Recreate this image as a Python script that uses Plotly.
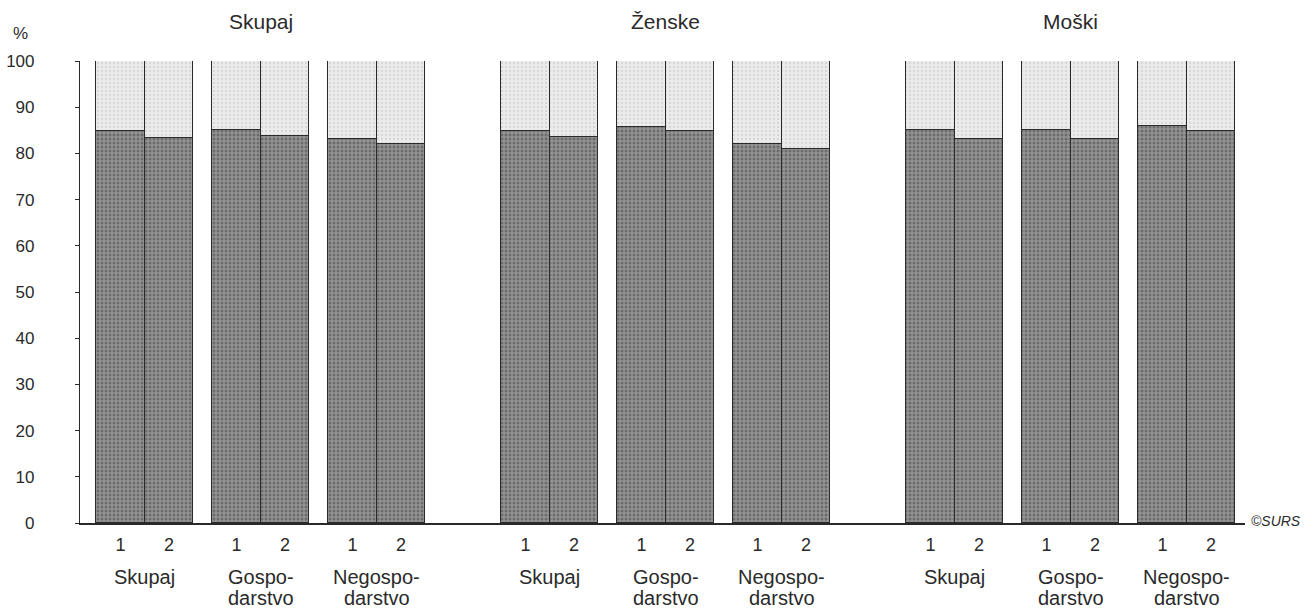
import plotly.graph_objects as go

# ---------------- data ----------------
groups = ["Skupaj", "Ženske", "Moški"]
sub_line1 = ["Skupaj", "Gospo-", "Negospo-"]
sub_line2 = ["", "darstvo", "darstvo"]
bar_labels = ["1", "2"]

# lower (dark) part, % ; order: Skupaj 1,2 / Gospodarstvo 1,2 / Negospodarstvo 1,2
dark_skupaj = [84.8, 83.3, 85.1, 83.7, 83.2, 82.1]
dark_zenske = [84.8, 83.5, 85.8, 84.8, 82.1, 81.0]
dark_moski = [85.1, 83.2, 85.1, 83.2, 86.0, 84.9]
# upper (light) part, %
light_skupaj = [15.2, 16.7, 14.9, 16.3, 16.8, 17.9]
light_zenske = [15.2, 16.5, 14.2, 15.2, 17.9, 19.0]
light_moski = [14.9, 16.8, 14.9, 16.8, 14.0, 15.1]

y_ticks = [0, 10, 20, 30, 40, 50, 60, 70, 80, 90, 100]

# ---------------- layout constants ----------------
BAR_W = 48.5
PAIR_STEP = 116
GROUP_STEP = 405
FIRST = 40.5
FONT = "Liberation Sans, Arial, Helvetica, sans-serif"
INK = "#2a2a2a"

dark_all = dark_skupaj + dark_zenske + dark_moski
light_all = light_skupaj + light_zenske + light_moski

xs, tick_text, pair_centers = [], [], []
for g in range(len(groups)):
    for s in range(len(sub_line1)):
        for b in range(len(bar_labels)):
            xs.append(FIRST + g * GROUP_STEP + s * PAIR_STEP + b * BAR_W)
            tick_text.append(bar_labels[b])
        pair_centers.append(FIRST + g * GROUP_STEP + s * PAIR_STEP + BAR_W / 2)

fig = go.Figure()
fig.add_trace(go.Bar(
    x=xs, y=dark_all, width=BAR_W,
    marker=dict(color="#939393",
                line=dict(color=INK, width=1.5),
                pattern=dict(shape=".", fgcolor="#444444", size=4, solidity=0.45, fillmode="overlay")),
    showlegend=False, hoverinfo="y",
))
fig.add_trace(go.Bar(
    x=xs, y=light_all, width=BAR_W,
    marker=dict(color="#ebebeb",
                line=dict(color=INK, width=1.5),
                pattern=dict(shape=".", fgcolor="#c0c0c0", size=4, solidity=0.25, fillmode="overlay")),
    showlegend=False, hoverinfo="y",
))

annotations = []
# group titles
for g, name in enumerate(groups):
    annotations.append(dict(x=pair_centers[g * 3 + 1], xref="x", y=1, yref="paper",
                            yanchor="middle", yshift=40, text=name, showarrow=False,
                            font=dict(family=FONT, size=21, color=INK)))
# subgroup labels
for g in range(len(groups)):
    for s in range(len(sub_line1)):
        xc = pair_centers[g * 3 + s]
        annotations.append(dict(x=xc, xref="x", y=0, yref="y", yanchor="middle",
                                yshift=-54, text=sub_line1[s], showarrow=False,
                                font=dict(family=FONT, size=20, color=INK)))
        if sub_line2[s]:
            annotations.append(dict(x=xc, xref="x", y=0, yref="y", yanchor="middle",
                                    yshift=-75, text=sub_line2[s], showarrow=False,
                                    font=dict(family=FONT, size=20, color=INK)))
# % label
annotations.append(dict(x=0, xref="paper", xanchor="center", xshift=-60, y=1, yref="paper",
                        yanchor="middle", yshift=28, text="%", showarrow=False,
                        font=dict(family=FONT, size=17, color=INK)))
# ©SURS
annotations.append(dict(x=1, xref="paper", xanchor="left", xshift=4, y=0, yref="y",
                        yanchor="middle", yshift=2, text="<i>©SURS</i>", showarrow=False,
                        font=dict(family=FONT, size=14, color=INK)))

fig.update_layout(
    width=1316, height=611,
    margin=dict(l=80, r=71, t=61, b=88, autoexpand=False),
    paper_bgcolor="white", plot_bgcolor="white",
    barmode="stack", bargap=0,
    annotations=annotations,
    xaxis=dict(range=[0, 1165], tickmode="array", tickvals=xs, ticktext=tick_text,
               automargin=False,
               showgrid=False, zeroline=False, showline=True, linecolor=INK, linewidth=1.5,
               ticks="", tickfont=dict(family=FONT, size=18, color=INK), ticklabelstandoff=5,
               fixedrange=True),
    yaxis=dict(range=[0, 100], tickmode="array", tickvals=y_ticks,
               automargin=False,
               showgrid=False, zeroline=False, showline=True, linecolor=INK, linewidth=1.2,
               ticks="outside", ticklen=4, tickcolor=INK, tickwidth=1,
               tickfont=dict(family=FONT, size=17, color=INK), ticklabelstandoff=37,
               fixedrange=True),
)

fig.write_html("out.html", config={"displayModeBar": False},
               post_script="document.body.style.margin='0';document.body.style.overflow='hidden';")
